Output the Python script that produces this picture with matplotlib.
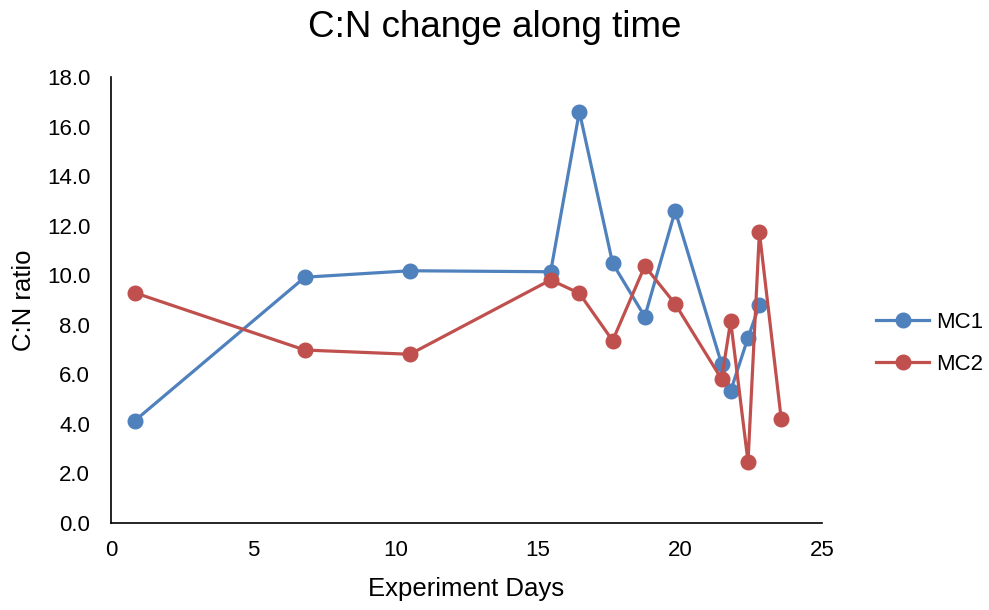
import matplotlib.pyplot as plt
from matplotlib.ticker import FormatStrFormatter

plt.rcParams["font.family"] = ["Liberation Sans", "DejaVu Sans"]

# C:N ratio readings
mc1_days = [0.84, 6.82, 10.51, 15.46, 16.47, 17.64, 18.77, 19.84, 21.47, 21.79, 22.40, 22.80]
mc1_ratio = [4.13, 9.92, 10.18, 10.14, 16.60, 10.48, 8.33, 12.60, 6.42, 5.33, 7.48, 8.79]

mc2_days = [0.84, 6.82, 10.51, 15.46, 16.47, 17.64, 18.77, 19.84, 21.47, 21.79, 22.40, 22.80, 23.57]
mc2_ratio = [9.29, 6.98, 6.81, 9.81, 9.27, 7.36, 10.37, 8.84, 5.81, 8.15, 2.47, 11.74, 4.18]

opline = {"linewidth": 2.3, "marker": "o", "markersize": 10.5}

fig = plt.figure(figsize=(9.89, 6.1), dpi=100)
ax = fig.add_axes([0.1122, 0.1426, 0.7189, 0.7312])

ax.plot(mc1_days, mc1_ratio, color="#4F81BD", label="MC1", **opline)
ax.plot(mc2_days, mc2_ratio, color="#C0504D", label="MC2", **opline)

ax.set_xlim(0, 25)
ax.set_ylim(0, 18)
ax.set_xticks([0, 5, 10, 15, 20, 25])
ax.set_yticks(range(0, 19, 2))
ax.yaxis.set_major_formatter(FormatStrFormatter("%.1f"))
ax.tick_params(length=0, labelsize=16)
ax.tick_params(axis="x", pad=12)
ax.tick_params(axis="y", pad=15)

for s in ["top", "right"]:
    ax.spines[s].set_visible(False)
for s in ["left", "bottom"]:
    ax.spines[s].set_linewidth(1.2)
    ax.spines[s].set_color("black")

# title is centred on the whole figure, not on the axes
fig.text(0.5, 0.9393, "C:N change along time", fontsize=26.5, ha="center", va="baseline")
ax.set_xlabel("Experiment Days", fontsize=18.5, labelpad=12)
ax.set_ylabel("C:N ratio", fontsize=18.5, labelpad=8)

ax.legend(loc="center left", bbox_to_anchor=(1.048, 0.403), frameon=False,
          fontsize=16, handlelength=2.4, labelspacing=0.95, handletextpad=0.3)

fig.savefig("out.png", dpi=100)
